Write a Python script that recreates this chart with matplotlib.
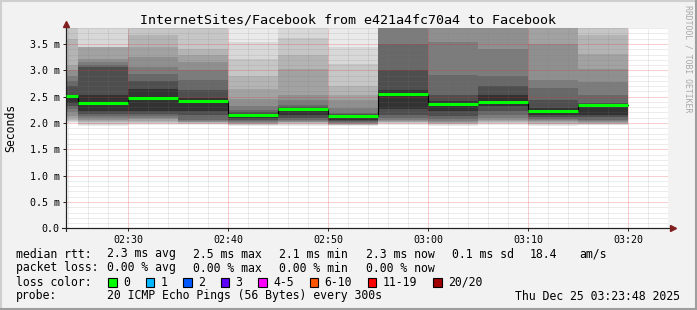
import numpy as np
import matplotlib
matplotlib.use('Agg')
import matplotlib.pyplot as plt
import matplotlib.dates as mdates
from matplotlib.ticker import MultipleLocator, FuncFormatter
from matplotlib.patches import Rectangle
from matplotlib.lines import Line2D
from datetime import datetime

INF = np.inf

# end of each 300 s rrd step
step_end = ['02:25', '02:30', '02:35', '02:40', '02:45', '02:50',
            '02:55', '03:00', '03:05', '03:10', '03:15', '03:20']

median_rtt = [2.51, 2.385, 2.475, 2.41, 2.16, 2.26, 2.14, 2.56, 2.365, 2.40, 2.23, 2.35]

# 20 sorted ping rtts (ms) per step, INF = above the graph top
pings_0225 = [2.00, 2.02, 2.04, 2.06, 2.10, 2.14, 2.20, 2.26, 2.32, 2.38,
              2.54, 2.71, 2.80, 2.90, 3.00, 3.10, 3.60, INF, INF, INF]
pings_0230 = [1.95, 1.97, 1.99, 2.01, 2.03, 2.06, 2.10, 2.14, 2.18, 2.23,
              2.54, 3.07, 3.10, 3.16, 3.21, 3.44, 3.44, 3.44, INF, INF]
pings_0235 = [1.97, 1.99, 2.00, 2.02, 2.04, 2.07, 2.10, 2.13, 2.17, 2.23,
              2.64, 2.80, 2.93, 3.06, 3.25, 3.44, 3.67, INF, INF, INF]
pings_0240 = [1.96, 1.98, 1.99, 2.00, 2.01, 2.02, 2.04, 2.06, 2.15, 2.23,
              2.48, 2.62, 2.81, 3.00, 3.15, 3.30, 3.41, INF, INF, INF]
pings_0245 = [1.94, 1.96, 1.97, 1.98, 1.99, 2.00, 2.01, 2.03, 2.06, 2.10,
              2.18, 2.20, 2.25, 2.33, 2.45, 2.64, 2.90, 3.22, 3.54, INF]
pings_0250 = [1.95, 1.97, 1.98, 2.00, 2.01, 2.02, 2.04, 2.06, 2.10, 2.16,
              2.28, 2.31, 2.35, 2.44, 2.54, 3.03, 3.29, 3.62, INF, INF]
pings_0255 = [1.95, 1.955, 1.96, 1.97, 1.98, 1.99, 2.00, 2.01, 2.03, 2.06,
              2.15, 2.17, 2.19, 2.29, 2.44, 2.54, 2.71, 3.12, 3.44, INF]
pings_0300 = [1.97, 1.99, 2.00, 2.01, 2.02, 2.04, 2.06, 2.10, 2.16, 2.26,
              2.62, 3.00, 3.50, INF, INF, INF, INF, INF, INF, INF]
pings_0305 = [1.95, 1.97, 1.98, 1.99, 2.00, 2.02, 2.04, 2.08, 2.13, 2.23,
              2.42, 2.54, 2.91, 3.53, INF, INF, INF, INF, INF, INF]
pings_0310 = [1.96, 1.98, 2.00, 2.01, 2.03, 2.06, 2.10, 2.16, 2.22, 2.33,
              2.54, 2.71, 2.90, 3.41, INF, INF, INF, INF, INF, INF]
pings_0315 = [1.94, 1.96, 1.98, 1.99, 2.01, 2.03, 2.05, 2.08, 2.12, 2.16,
              2.29, 2.44, 2.67, 2.81, 3.50, INF, INF, INF, INF, INF]
pings_0320 = [1.96, 1.97, 1.98, 1.99, 2.00, 2.01, 2.03, 2.06, 2.12, 2.16,
              2.37, 2.38, 2.54, 2.77, 3.03, 3.31, 3.67, INF, INF, INF]

rtt_summary = ['2.3 ms avg', '2.5 ms max', '2.1 ms min', '2.3 ms now', '0.1 ms sd', '18.4', 'am/s']
loss_summary = ['0.00 % avg', '0.00 % max', '0.00 % min', '0.00 % now']
loss_labels = ['0', '1', '2', '3', '4-5', '6-10', '11-19', '20/20']
loss_colors = ['#00ff00', '#00b8ff', '#0059ff', '#5e00ff', '#ff00ff', '#ff5500', '#ff0000', '#a10000']
probe_text = '20 ICMP Echo Pings (56 Bytes) every 300s'
stamp_text = 'Thu Dec 25 03:23:48 2025'
title = 'InternetSites/Facebook from e421a4fc70a4 to Facebook'

# smoke shades, outermost pair first
smoke_grays = [234, 216, 198, 180, 162, 143, 124, 104, 78, 50]

W, H = 697, 310
YMAX = 3.81
plt.rcParams['font.family'] = 'DejaVu Sans Mono'


def fx(x):
    return x / W


def fy(y):
    return 1 - y / H


fig = plt.figure(figsize=(W / 100, H / 100), dpi=100, facecolor='#f2f2f2')
ax = fig.add_axes([fx(66), fy(228.3), 602 / W, 200.6 / H])
ax.set_facecolor('white')

t0 = datetime(2025, 12, 25, 2, 23, 48)
t1 = datetime(2025, 12, 25, 3, 24, 0)
edges = [t0] + [datetime.strptime('2025-12-25 ' + t, '%Y-%m-%d %H:%M') for t in step_end]
ex = mdates.date2num(edges)

pings = np.array([pings_0225, pings_0230, pings_0235, pings_0240, pings_0245, pings_0250,
                  pings_0255, pings_0300, pings_0305, pings_0310, pings_0315, pings_0320])
pings = np.minimum(pings, YMAX * 2)

for k, g in enumerate(smoke_grays):
    lo = np.append(pings[:, k], pings[-1, k])
    hi = np.append(pings[:, 19 - k], pings[-1, 19 - k])
    ax.fill_between(ex, lo, hi, step='post', color='#%02x%02x%02x' % (g, g, g),
                    lw=0, antialiased=False, zorder=1)

med = np.array(median_rtt)
ax.step(ex, np.append(med, med[-1]), where='post', color='black', lw=0.8, zorder=2.8)
ax.hlines(med, ex[:-1], ex[1:], colors='#00ff00', lw=2.2, zorder=3)

ax.set_xlim(mdates.date2num(t0), mdates.date2num(t1))
ax.set_ylim(0, YMAX)

ax.xaxis.set_major_locator(mdates.MinuteLocator(byminute=range(0, 60, 10)))
ax.xaxis.set_minor_locator(mdates.MinuteLocator(byminute=range(0, 60, 2)))
ax.xaxis.set_major_formatter(mdates.DateFormatter('%H:%M'))
ax.yaxis.set_major_locator(MultipleLocator(0.5))
ax.yaxis.set_minor_locator(MultipleLocator(0.1))
ax.yaxis.set_major_formatter(FuncFormatter(lambda v, p: '0.0' if abs(v) < 1e-9 else f'{v:.1f} m'))

ax.set_axisbelow(False)
ax.grid(which='minor', color='#7a7a7a', alpha=0.28, lw=0.72, linestyle=(0, (1, 1)))
ax.grid(which='major', color='#e03030', alpha=0.45, lw=0.72, linestyle=(0, (1, 1)))

for s in ['top', 'right']:
    ax.spines[s].set_visible(False)
for s in ['left', 'bottom']:
    ax.spines[s].set_color('#1f1f1f')
    ax.spines[s].set_linewidth(0.8)

ax.tick_params(which='major', length=2, width=0.7, color='#1f1f1f', labelsize=7.2, pad=2.5)
ax.tick_params(which='minor', length=0)

# axis stubs and arrows
ax.add_line(Line2D([-0.007, 1.006], [0, 0], transform=ax.transAxes, color='#1f1f1f', lw=0.8, clip_on=False))
ax.add_line(Line2D([0, 0], [-0.012, 1.015], transform=ax.transAxes, color='#1f1f1f', lw=0.8, clip_on=False))
ax.plot([1.009], [0], marker='>', ms=4, color='#801f1f', transform=ax.transAxes, clip_on=False)
ax.plot([0], [1.02], marker='^', ms=4, color='#801f1f', transform=ax.transAxes, clip_on=False)

fig.text(fx(348.5), fy(23.5), title, ha='center', va='baseline', fontsize=9.6)
fig.text(fx(11), fy(127.5), 'Seconds', rotation=90, ha='center', va='center', fontsize=8.3)
fig.text(fx(688), fy(59), 'RRDTOOL / TOBI OETIKER', rotation=270, ha='center', va='center',
         fontsize=5.9, color='#a8a8a8')

# legend block
fs = 8.3
rows = [257.5, 271.5, 285.5, 299.5]
cols = [107, 193, 279, 366, 452, 530, 579]
fig.text(fx(16), fy(rows[0]), 'median rtt:', fontsize=fs, va='baseline')
for x, s in zip(cols, rtt_summary):
    fig.text(fx(x), fy(rows[0]), s, fontsize=fs, va='baseline')
fig.text(fx(16), fy(rows[1]), 'packet loss:', fontsize=fs, va='baseline')
for x, s in zip(cols, loss_summary):
    fig.text(fx(x), fy(rows[1]), s, fontsize=fs, va='baseline')
fig.text(fx(16), fy(rows[2]), 'loss color:', fontsize=fs, va='baseline')
bx = 108.3
for lab, col in zip(loss_labels, loss_colors):
    fig.add_artist(Rectangle((fx(bx), fy(286.5)), 8.5 / W, 8.5 / H, transform=fig.transFigure,
                             facecolor=col, edgecolor='black', lw=0.8))
    fig.text(fx(bx + 15), fy(rows[2]), lab, fontsize=fs, va='baseline')
    bx += 30.5 + 6.96 * len(lab)
fig.text(fx(16), fy(rows[3]), 'probe:', fontsize=fs, va='baseline')
fig.text(fx(107), fy(rows[3]), probe_text, fontsize=fs, va='baseline')
fig.text(fx(680), fy(rows[3]), stamp_text, fontsize=fs, va='baseline', ha='right')

# 3d frame
fig.add_artist(Line2D([0, 1], [fy(1), fy(1)], transform=fig.transFigure, color='#cfcfcf', lw=1.5))
fig.add_artist(Line2D([fx(1), fx(1)], [0, 1], transform=fig.transFigure, color='#cfcfcf', lw=1.5))
fig.add_artist(Line2D([0, 1], [fy(309), fy(309)], transform=fig.transFigure, color='#9e9e9e', lw=1.5))
fig.add_artist(Line2D([fx(696), fx(696)], [0, 1], transform=fig.transFigure, color='#9e9e9e', lw=1.5))

fig.savefig('out.png', dpi=100, facecolor=fig.get_facecolor())
